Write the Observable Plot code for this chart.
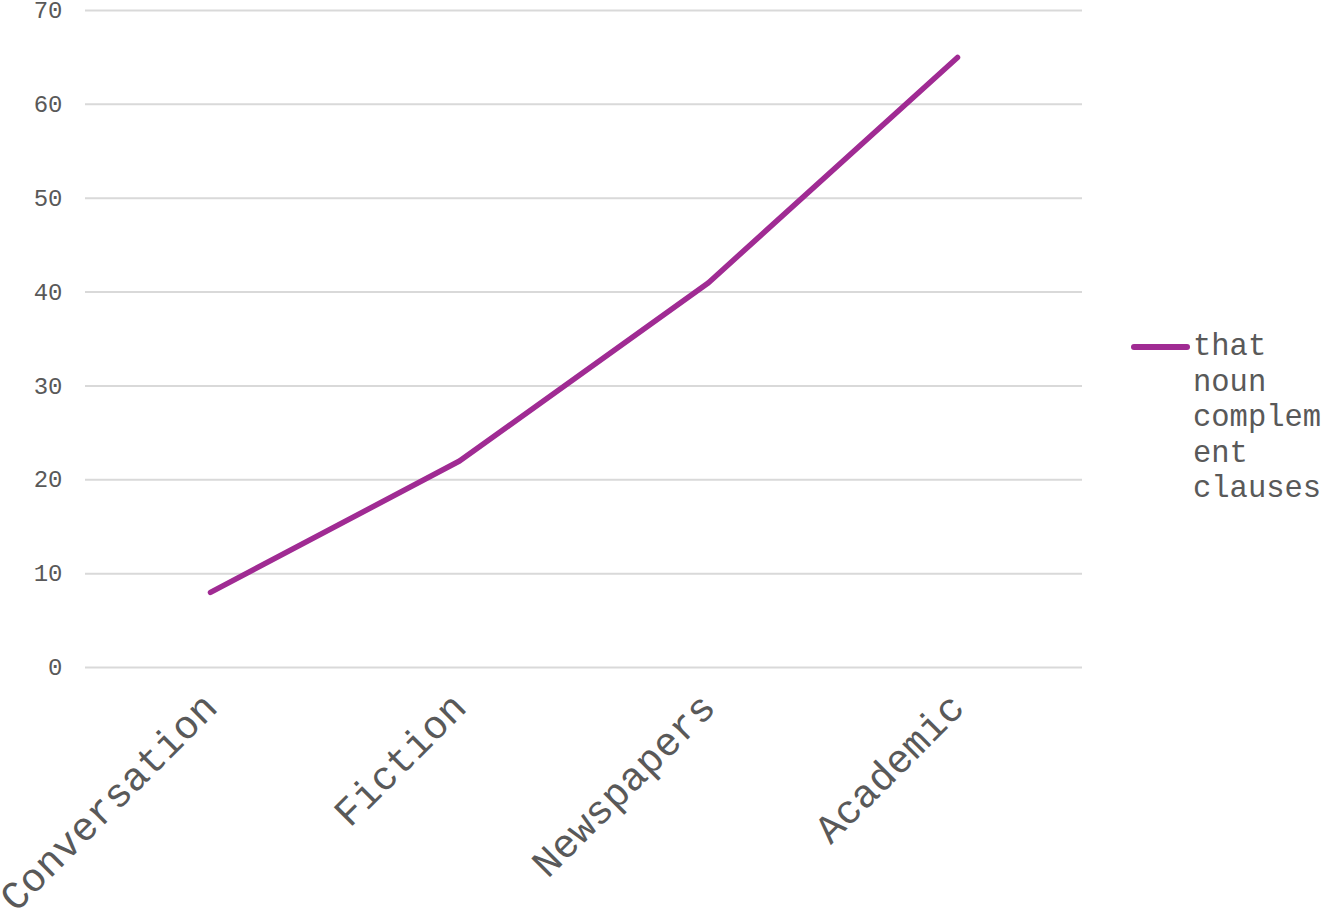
<!DOCTYPE html>
<html>
<head>
<meta charset="utf-8">
<script src="https://cdn.jsdelivr.net/npm/d3@7"></script>
<script src="https://cdn.jsdelivr.net/npm/@observablehq/plot@0.6"></script>
<style>
  html, body { margin: 0; padding: 0; background: #fff; overflow: hidden; }
  #wrap { position: relative; width: 1323px; height: 910px; }
  #legend { position: absolute; left: 1130px; top: 330px; display: flex; align-items: flex-start;
    font-family: "Liberation Mono", monospace; font-size: 30.5px; line-height: 35.5px; color: #595959; }
  #legend .txt { width: 132px; overflow-wrap: anywhere; }
</style>
</head>
<body>
<div id="wrap"></div>
<script>
const categories = ["Conversation", "Fiction", "Newspapers", "Academic"];
const values = [8, 22, 41, 65];
const yTicks = [0, 10, 20, 30, 40, 50, 60, 70];
const seriesName = "that noun complement clauses";
const lineColor = "#a02b93";

const rows = categories.map((c, i) => ({cat: c, value: values[i]}));

const chart = Plot.plot({
  width: 1323,
  height: 910,
  marginLeft: 85,
  marginRight: 241,
  marginTop: 10,
  marginBottom: 243,
  style: {fontFamily: "Liberation Mono, monospace", color: "#595959", background: "#fff", overflow: "visible"},
  x: {type: "point", domain: categories, padding: 0.5},
  y: {domain: [0, 70]},
  marks: [
    Plot.gridY(yTicks, {stroke: "#d9d9d9", strokeOpacity: 1, strokeWidth: 2}),
    Plot.axisY(yTicks, {tickSize: 0, tickPadding: 23, fontSize: 24, label: null}),
    Plot.axisX({tickSize: 0, tickPadding: 33, tickRotate: -45, fontSize: 40, label: null}),
    Plot.line(rows, {x: "cat", y: "value", stroke: lineColor, strokeWidth: 5.5, strokeLinecap: "round", strokeLinejoin: "round"})
  ]
});

const wrap = document.getElementById("wrap");
wrap.appendChild(chart);

const legend = document.createElement("div");
legend.id = "legend";
legend.innerHTML = `<svg width="63" height="36" style="flex:none"><line x1="4" x2="57" y1="17" y2="17" stroke="${lineColor}" stroke-width="6" stroke-linecap="round"/></svg><div class="txt"></div>`;
legend.querySelector(".txt").textContent = seriesName;
wrap.appendChild(legend);
</script>
</body>
</html>
